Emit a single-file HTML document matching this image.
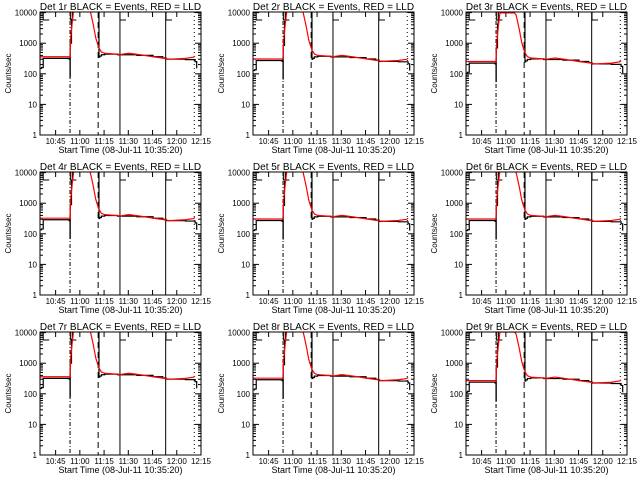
<!DOCTYPE html>
<html><head><meta charset="utf-8"><style>
html,body{margin:0;padding:0;background:#fff;}
svg{display:block;font-family:"Liberation Sans",sans-serif;}
</style></head><body>
<svg id="c" width="640" height="480" viewBox="0 0 640 480">
<rect width="640" height="480" fill="#fff"/>
</svg>
<script>
// data (time in minutes after 10:35:20)
const detNames = ["1r","2r","3r","4r","5r","6r","7r","8r","9r"];
const panelLevels = [1.0, 0.85, 0.7, 0.9, 0.85, 0.85, 1.0, 0.9, 0.75];
const blackTimes = [0,1,2,17,18,18.6,18.7,19.5,20,36.5,37,38,40,48,60,70,76,78,90,95,96,97];
const blackValues = [150,160,320,320,300,80,1000,6000,20000,350,380,420,440,420,400,360,330,300,290,290,250,150];
const redTimes = [0,18.5,19,20,21,30,31,32,33,34.5,35.5,36.5,38,40,50,55,62,70,77,80,90,95,96];
const redValues = [360,360,1500,5000,14000,14000,12000,7000,4000,1500,1000,700,520,470,430,470,420,360,320,300,320,350,380];
const xTickLabels = ["10:45","11:00","11:15","11:30","11:45","12:00","12:15"];
const xTickMinutes = [9.667,24.667,39.667,54.667,69.667,84.667,99.667];
const yTickValues = [1,10,100,1000,10000];
const yTickLabels = ["1","10","100","1000","10000"];
const markerTimes = [18.6,36,49.5,77.8,95.5];
const markerStyles = ["dashdot","dash","solid","solid","dot"];

const NS="http://www.w3.org/2000/svg";
const svg=document.getElementById('c');
function mk(tag,attrs,parent){const e=document.createElementNS(NS,tag);for(const k in attrs)e.setAttribute(k,attrs[k]);parent.appendChild(e);return e;}
const W=161,TMAX=99.667,LOGMAX=4.02;
detNames.forEach((nm,i)=>{
  const ox=213*(i%3), oy=160*Math.floor(i/3);
  const L=ox+40,R=L+W,T=oy+12,B=oy+135;
  const xs=t=>L+t/TMAX*W;
  const ys=v=>B-Math.log10(v)/LOGMAX*(B-T);
  const g=mk('g',{},svg);
  
  
  const cp=mk('clipPath',{id:'cp'+i},g);
  mk('rect',{x:L,y:T,width:W,height:B-T},cp);
  const title=mk('text',{x:(L+R)/2,y:oy+10,'text-anchor':'middle','font-size':10},g);
  title.textContent='Det '+nm+' BLACK = Events, RED = LLD';
  
  
  const yl=mk('text',{x:0,y:0,'text-anchor':'middle','font-size':8,transform:`translate(${ox+11},${(T+B)/2}) rotate(-90)`},g);
  yl.textContent='Counts/sec';
  
  
  const xl=mk('text',{x:(L+R)/2,y:oy+153,'text-anchor':'middle','font-size':9},g);
  xl.textContent='Start Time (08-Jul-11 10:35:20)';
  
  
  yTickValues.forEach((v,k)=>{
    const y=ys(v);
    const t=mk('text',{x:L-3,y:y+3,'text-anchor':'end','font-size':8},g);
    t.textContent=yTickLabels[k];
    
    
    mk('line',{x1:L,x2:L+6,y1:y,y2:y,stroke:'#000'},g);
    mk('line',{x1:R,x2:R-6,y1:y,y2:y,stroke:'#000'},g);
    if(k<yTickValues.length-1){for(let m=2;m<10;m++){const yy=ys(v*m);mk('line',{x1:L,x2:L+3,y1:yy,y2:yy,stroke:'#000'},g);mk('line',{x1:R,x2:R-3,y1:yy,y2:yy,stroke:'#000'},g);}}
  });
  xTickMinutes.forEach((m,k)=>{
    const x=xs(m);
    const t=mk('text',{x:x,y:oy+144,'text-anchor':'middle','font-size':8},g);
    t.textContent=xTickLabels[k];
    
    
    mk('line',{x1:x,x2:x,y1:B,y2:B-5,stroke:'#000'},g);
    mk('line',{x1:x,x2:x,y1:T,y2:T+5,stroke:'#000'},g);
  });
  const dash={dashdot:'4,2,1,2',dash:'6,4',solid:'',dot:'1,3'};
  markerTimes.forEach((m,k)=>{
    const x=xs(m);
    const l=mk('line',{x1:x,x2:x,y1:T,y2:B,stroke:'#000','stroke-width':1,'stroke-dasharray':dash[markerStyles[k]]},g);
    
    
  });
  [2,18.8,49.5,78].forEach(m=>{const x=xs(m);mk('polyline',{points:`${x},${T} ${x},${T+8} ${x+6},${T+8}`,fill:'none',stroke:'#000'},g);});
  const scale=panelLevels[i];
  const step=(ts,vs)=>{let p='';ts.forEach((t,k)=>{const y=ys(vs[k]*scale);if(k>0)p+=` ${xs(t)},${ys(vs[k-1]*scale)}`;p+=` ${xs(t)},${y}`;});return p;};
  const bl=mk('polyline',{points:step(blackTimes,blackValues),fill:'none',stroke:'#000','stroke-width':1.2,'clip-path':`url(#cp${i})`},g);
  
  
  const rd=mk('polyline',{points:redTimes.map((t,k)=>`${xs(t)},${ys(redValues[k]*scale)}`).join(' '),fill:'none',stroke:'#ff0000','stroke-width':1.2,'clip-path':`url(#cp${i})`},g);
  
  
  const fr=mk('rect',{x:L,y:T,width:W,height:B-T,fill:'none',stroke:'#000'},g);
  
  
});
</script>
</body></html>
